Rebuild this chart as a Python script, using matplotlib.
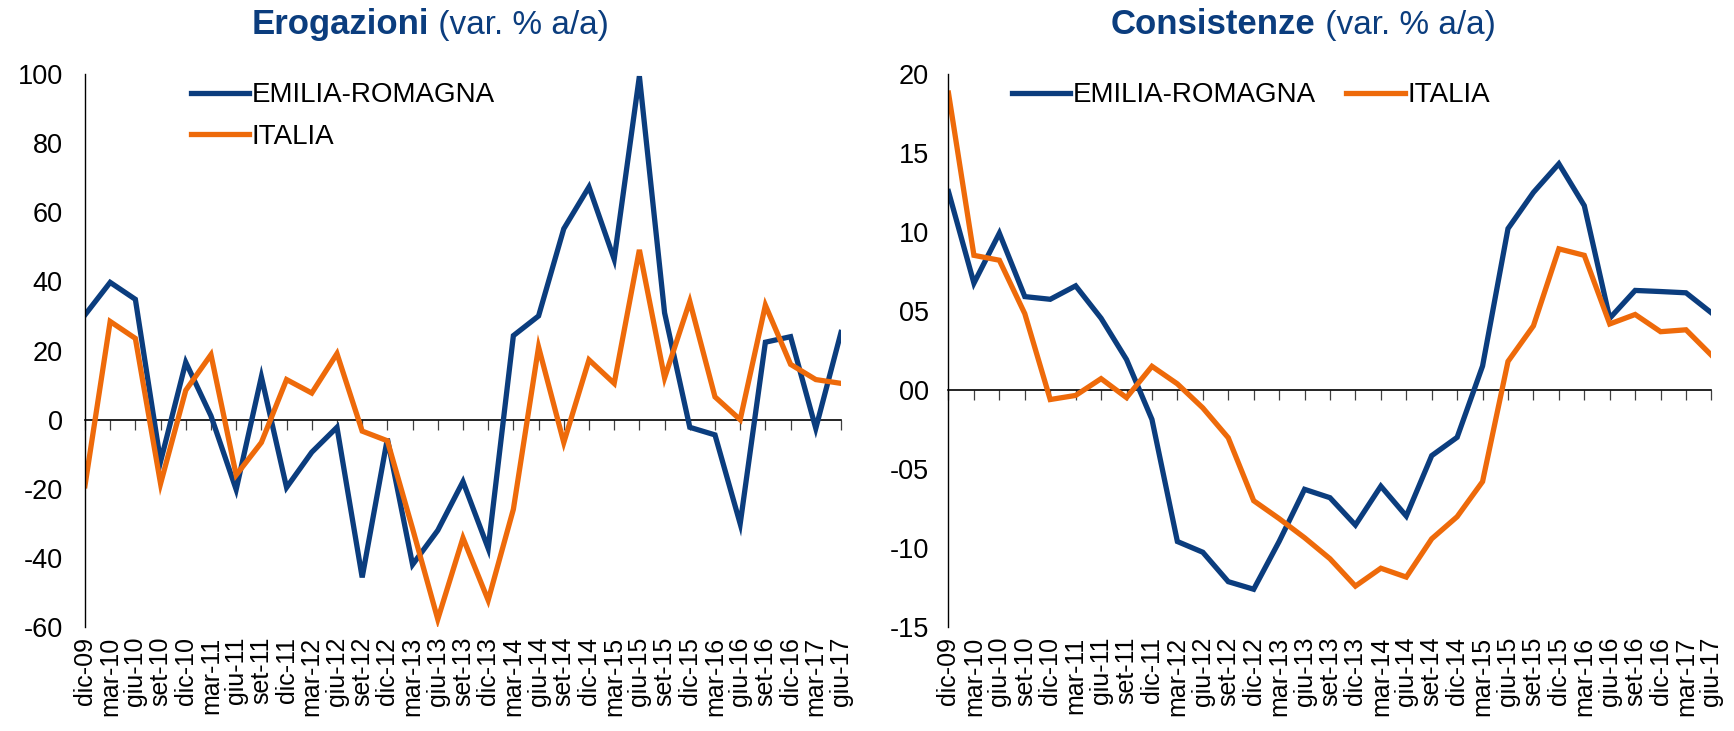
import matplotlib
matplotlib.use("Agg")
import matplotlib.pyplot as plt

plt.rcParams['font.family'] = ['Liberation Sans', 'DejaVu Sans']

periodi = ['dic-09', 'mar-10', 'giu-10', 'set-10', 'dic-10', 'mar-11', 'giu-11', 'set-11',
           'dic-11', 'mar-12', 'giu-12', 'set-12', 'dic-12', 'mar-13', 'giu-13', 'set-13',
           'dic-13', 'mar-14', 'giu-14', 'set-14', 'dic-14', 'mar-15', 'giu-15', 'set-15',
           'dic-15', 'mar-16', 'giu-16', 'set-16', 'dic-16', 'mar-17', 'giu-17']

# Erogazioni (var. % a/a)
erog_er = [30.3, 39.7, 34.8, -12.1, 16.6, 1.1, -20.2, 12.4, -19.6, -9.4, -2.2, -45.6,
           -5.5, -41.9, -32.0, -17.9, -37.2, 24.3, 30.0, 55.2, 67.3, 46.4, 99.3, 30.9,
           -2.2, -4.4, -30.1, 22.4, 24.0, -2.5, 25.2]
erog_it = [-19.1, 28.4, 23.5, -18.5, 8.5, 18.8, -16.0, -6.6, 11.6, 7.7, 19.1, -3.3,
           -6.1, -31.5, -57.7, -34.2, -52.2, -25.9, 21.0, -6.6, 17.3, 10.5, 49.1, 12.1,
           34.2, 6.6, 0.0, 33.1, 16.0, 11.6, 10.5]

# Consistenze (var. % a/a)
cons_er = [12.55, 6.76, 9.92, 5.91, 5.74, 6.59, 4.54, 1.93, -1.86, -9.58, -10.26, -12.12,
           -12.6, -9.58, -6.28, -6.81, -8.54, -6.08, -7.97, -4.15, -2.99, 1.52, 10.21, 12.5,
           14.31, 11.66, 4.54, 6.3, 6.23, 6.15, 4.88]
cons_it = [18.78, 8.52, 8.21, 4.83, -0.6, -0.34, 0.72, -0.48, 1.5, 0.39, -1.13, -3.02,
           -7.0, -8.13, -9.34, -10.67, -12.4, -11.27, -11.83, -9.41, -8.01, -5.79, 1.81, 4.06,
           8.93, 8.52, 4.18, 4.78, 3.69, 3.81, 2.2]

erog_yticks = [-60, -40, -20, 0, 20, 40, 60, 80, 100]
cons_yticks = [-15, -10, -5, 0, 5, 10, 15, 20]
cons_ylabels = ['-15', '-10', '-05', '00', '05', '10', '15', '20']

BLU = '#0b3d7e'
ARANCIO = '#ee6a0a'

fig = plt.figure(figsize=(17.34, 7.31), dpi=100)
ax1 = fig.add_axes([0.049, 0.142, 0.436, 0.757])
ax2 = fig.add_axes([0.547, 0.142, 0.440, 0.757])

x = list(range(len(periodi)))


def disegna(ax, er, it, yticks, ylabels, ylim, pad):
    ax.plot(x, er, color=BLU, lw=3.8, label='EMILIA-ROMAGNA', solid_joinstyle='miter')
    ax.plot(x, it, color=ARANCIO, lw=3.8, label='ITALIA', solid_joinstyle='miter')
    ax.set_xlim(0, len(periodi) - 1)
    ax.set_ylim(*ylim)
    ax.set_yticks(yticks)
    ax.set_yticklabels(ylabels)
    ax.tick_params(axis='y', length=0, labelsize=19.5, pad=pad)
    for s in ['top', 'right', 'bottom']:
        ax.spines[s].set_visible(False)
    ax.spines['left'].set_linewidth(1.0)
    ax.set_xticks(x)
    ax.set_xticklabels(periodi, rotation=90)
    ax.tick_params(axis='x', length=0, labelsize=18, pad=7)
    # linea dello zero con le tacche
    zero = (0 - ylim[0]) / (ylim[1] - ylim[0])
    sec = ax.secondary_xaxis(zero)
    sec.set_xticks(x)
    sec.set_xticklabels([])
    sec.tick_params(axis='x', direction='out', length=7, width=0.9, color='#404040')
    sec.spines['bottom'].set_linewidth(1.2)


disegna(ax1, erog_er, erog_it, erog_yticks, [str(v) for v in erog_yticks], (-60, 100), 16)
disegna(ax2, cons_er, cons_it, cons_yticks, cons_ylabels, (-15, 20), 14)

ax1.legend(loc='upper left', bbox_to_anchor=(0.107, 1.03), frameon=False, fontsize=20,
           handlelength=2.1, handletextpad=0.1, labelspacing=0.55)
ax2.legend(loc='upper left', bbox_to_anchor=(0.05, 1.03), frameon=False, fontsize=20,
           ncol=2, handlelength=2.1, handletextpad=0.1, columnspacing=1.1)

# titoli: parte in grassetto + parte normale
for xs, grassetto in [(0.1453, 'Erogazioni'), (0.6407, 'Consistenze')]:
    t = fig.text(xs, 0.966, grassetto, fontsize=25, fontweight='bold', color=BLU,
                 ha='left', va='center')
    ax2.annotate(' (var. % a/a)', xy=(1, 0), xycoords=t, fontsize=24,
                 color=BLU, ha='left', va='bottom', annotation_clip=False)

fig.savefig('out.png', dpi=100)
